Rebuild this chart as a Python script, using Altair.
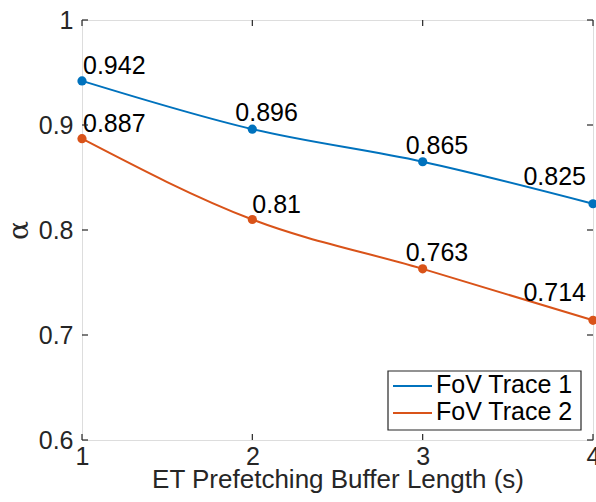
import altair as alt
import pandas as pd

x_vals = [1, 2, 3, 4]
trace1 = [0.942, 0.896, 0.865, 0.825]
trace2 = [0.887, 0.81, 0.763, 0.714]
series_names = ["FoV Trace 1", "FoV Trace 2"]
colors = ["#0072BD", "#D95319"]
x_ticks = [1, 2, 3, 4]
y_ticks = [0.6, 0.7, 0.8, 0.9, 1.0]

rows = []
for name, vals in zip(series_names, [trace1, trace2]):
    for x, v in zip(x_vals, vals):
        rows.append({"series": name, "x": x, "y": v, "label": str(v)})
df = pd.DataFrame(rows)

FONT = "Liberation Sans"
W, H = 511, 420
AX = "#262626"

xs = alt.Scale(domain=[1, 4], nice=False)
ys = alt.Scale(domain=[0.6, 1.0], nice=False)
cs = alt.Scale(domain=series_names, range=colors)

base = alt.Chart(df)

lines = base.mark_line(interpolate="monotone", strokeWidth=2).encode(
    x=alt.X("x:Q", scale=xs, title="ET Prefetching Buffer Length (s)",
            axis=alt.Axis(values=x_ticks, ticks=False, domain=False, grid=False,
                          labelFlush=False, labelOverlap=False,
                          labelFont=FONT, labelFontSize=25, labelColor=AX, labelPadding=4,
                          titleFont=FONT, titleFontSize=26, titleFontWeight="normal",
                          titleColor=AX, titleY=26, format="d")),
    y=alt.Y("y:Q", scale=ys, title="α",
            axis=alt.Axis(values=y_ticks, ticks=False, domain=False, grid=False,
                          labelFlush=False, labelOverlap=False,
                          labelFont=FONT, labelFontSize=25, labelColor=AX, labelPadding=9,
                          format="~g", titleFont="DejaVu Serif", titleFontSize=28,
                          titleFontWeight="normal", titleColor=AX, titlePadding=5)),
    color=alt.Color("series:N", scale=cs, legend=None),
)

points = base.mark_circle(size=85, opacity=1).encode(
    x=alt.X("x:Q", scale=xs), y=alt.Y("y:Q", scale=ys),
    color=alt.Color("series:N", scale=cs, legend=None),
)

def lab(filt, align, dx, dy):
    return base.transform_filter(filt).mark_text(
        align=align, baseline="alphabetic", dx=dx, dy=dy,
        font=FONT, fontSize=25, color="#000000"
    ).encode(x=alt.X("x:Q", scale=xs), y=alt.Y("y:Q", scale=ys), text="label:N")

labels = [
    lab("datum.x == 1", "left", 1, -7),
    lab("(datum.x == 2 || datum.x == 3) && !(datum.x == 2 && datum.series == 'FoV Trace 2')", "left", -17, -8),
    lab("datum.x == 2 && datum.series == 'FoV Trace 2'", "left", 0, -7),
    lab("datum.x == 4", "right", -7, -19),
]

xt = pd.DataFrame({"t": x_ticks})
yt = pd.DataFrame({"t": y_ticks})
tick_style = dict(color=AX, strokeWidth=1.2)
ticks = [
    alt.Chart(xt).mark_rule(**tick_style).encode(x=alt.X("t:Q", scale=xs), y=alt.value(H), y2=alt.value(H - 6)),
    alt.Chart(xt).mark_rule(**tick_style).encode(x=alt.X("t:Q", scale=xs), y=alt.value(0), y2=alt.value(6)),
    alt.Chart(yt).mark_rule(**tick_style).encode(y=alt.Y("t:Q", scale=ys), x=alt.value(0), x2=alt.value(6)),
    alt.Chart(yt).mark_rule(**tick_style).encode(y=alt.Y("t:Q", scale=ys), x=alt.value(W), x2=alt.value(W - 6)),
]

# manual legend
leg_df = pd.DataFrame({"series": series_names, "row": [0, 1]})
legend_box = alt.Chart(pd.DataFrame({"a": [0]})).mark_rect(
    fill="white", stroke=AX, strokeWidth=1.2
).encode(x=alt.value(306), x2=alt.value(499), y=alt.value(351), y2=alt.value(410))
leg_layers = [legend_box]
for i, yy in enumerate([366, 393]):
    sub = alt.Chart(leg_df).transform_filter(f"datum.row == {i}")
    leg_layers.append(sub.mark_rule(strokeWidth=2).encode(
        x=alt.value(311), x2=alt.value(350), y=alt.value(yy),
        color=alt.Color("series:N", scale=cs, legend=None)))
    leg_layers.append(sub.mark_text(align="left", baseline="middle", font=FONT,
                                    fontSize=25, color="#000000").encode(
        x=alt.value(354), y=alt.value(yy - 1), text="series:N"))

chart = alt.layer(lines, points, *labels, *ticks, *leg_layers).properties(
    width=W, height=H,
    autosize=alt.AutoSizeParams(type="none"),
    padding={"left": 82, "top": 20, "right": 3, "bottom": 62},
).configure_view(stroke=AX, strokeWidth=1.5).configure(background="white")

chart.save("out.html", embed_options={"renderer": "svg", "actions": False})
